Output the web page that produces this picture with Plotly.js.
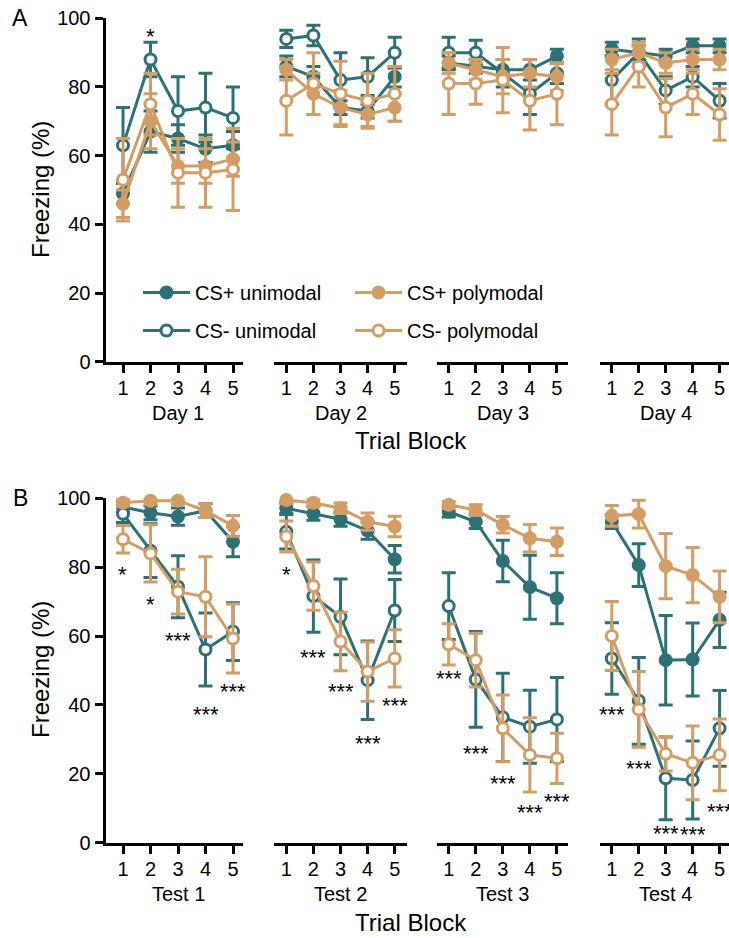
<!DOCTYPE html>
<html><head><meta charset="utf-8">
<script src="https://cdn.plot.ly/plotly-3.0.1.min.js"></script>
<style>html,body{margin:0;padding:0;background:#fff}#chart{width:729px;height:938px}</style>
</head><body><div id="chart"></div>
<script>
// ---------- DATA ----------
const blocks = [1, 2, 3, 4, 5];
const yTicks = [0, 20, 40, 60, 80, 100];
const dayLabels = ['Day 1', 'Day 2', 'Day 3', 'Day 4'];
const testLabels = ['Test 1', 'Test 2', 'Test 3', 'Test 4'];
const seriesNames = ['CS+ unimodal', 'CS- unimodal', 'CS+ polymodal', 'CS- polymodal'];

// Panel A (acquisition days), one row per day
const csPlusUniA     = [[49, 67, 65, 62, 63], [86, 83, 74, 73, 83], [87, 86, 85, 85, 89], [91, 90, 89, 92, 92]];
const csPlusUniAErr  = [[3, 6, 4, 4, 4], [3, 3, 2, 2, 3], [2, 2, 3, 3, 2], [2, 2, 2, 2, 2]];
const csMinusUniA    = [[63, 88, 73, 74, 71], [94, 95, 82, 83, 90], [90, 90, 84, 78, 84], [82, 90, 79, 83, 76]];
const csMinusUniAErr = [[11, 5, 10, 10, 9], [2.5, 3, 8, 5.5, 4.5], [4.5, 3.6, 4, 6, 3], [7, 4, 4, 3, 5]];
const csPlusPolyA    = [[46, 70, 57, 57, 59], [85, 78, 74, 72, 74], [87, 85, 83, 84, 83], [88, 90, 87, 88, 88]];
const csPlusPolyAErr = [[4, 8, 5, 5, 5], [3, 6, 5, 3.5, 4], [3, 3, 5, 4, 4], [3, 3, 3, 3, 3]];
const csMinusPolyA   = [[53, 75, 55, 55, 56], [76, 81, 78, 76, 78], [81, 81, 82, 76, 78], [75, 86, 74, 78, 72]];
const csMinusPolyAErr= [[12, 9, 10, 10, 12], [10, 9, 9.5, 8, 8], [9, 6, 9.5, 8.5, 9], [9, 6, 8.5, 6, 7.5]];
const starsAValue = [96.1];
const starsAText  = ['*'];
const starsABlock = [2];

// Panel B (tests), one row per test
const csPlusUniB     = [[97.5, 95.8, 94.7, 96.4, 87.4], [97.1, 95.6, 93.9, 90.6, 82.3], [96.1, 93.2, 81.8, 74.2, 71], [93.2, 80.6, 53, 53.2, 64.7]];
const csPlusUniBErr  = [[1.5, 2, 2.5, 2, 4.4], [1.5, 2, 2, 2.5, 4], [1.5, 2, 6, 9.3, 7.4], [2, 6.2, 13, 10.6, 8]];
const csMinusUniB    = [[95.5, 84.8, 74.3, 56.1, 61.3], [90.3, 71.6, 65.6, 47.2, 67.4], [68.7, 47.4, 36.4, 33.7, 35.8], [53.5, 41.2, 18.7, 18.2, 33.2]];
const csMinusUniBErr = [[2.5, 7.8, 9, 10.6, 8.4], [5, 10.5, 11, 11.4, 9], [9.7, 13.9, 12.8, 10.6, 12.2], [10.4, 12.6, 12, 11.3, 11]];
const csPlusPolyB    = [[98.7, 99.3, 99.3, 96.4, 92], [99.5, 98.7, 97.1, 93.2, 91.8], [98.1, 96.6, 92.3, 88.4, 87.4], [94.9, 95.4, 80.3, 77.7, 71.4]];
const csPlusPolyBErr = [[1, 1, 1, 2, 3], [1, 1, 1.5, 2.5, 3], [1, 1.5, 2.4, 4, 4], [3, 4, 9.5, 8, 7.5]];
const csMinusPolyB   = [[88.1, 84, 72.9, 71.4, 59.3], [88.9, 74.5, 58.4, 49.7, 53.5], [57.6, 53, 33.2, 25.5, 24.5], [60, 38.7, 25.8, 23.2, 25.5]];
const csMinusPolyBErr= [[4, 8.3, 6.5, 11.6, 10], [4.5, 7, 8.5, 8.6, 8.3], [6, 7.8, 9.7, 10.8, 7.3], [10, 11, 5, 10.7, 10.4]];
const starsBValue = [[79.2, 70.5, 60.3, 38.7, 45.5], [79.2, 55.2, 45.5, 30.3, 41.2], [49.2, 27.4, 18.7, 10.2, 13.4], [38.7, 23, 4.2, 3.7, 10.5]];
const starsBText  = [['*', '*', '***', '***', '***'], ['*', '***', '***', '***', '***'], ['***', '***', '***', '***', '***'], ['***', '***', '***', '***', '***']];

// ---------- STYLE / GEOMETRY ----------
const W = 729, H = 938;
const TEAL = '#2b7176', TAN = '#d49d64';
const FONT = 'Liberation Sans, Arial, sans-serif';
// per column: [axis start px, axis end px, tick1 px, tick5 px]
const cols = [[105.5, 243, 123, 233], [274, 407, 286.3, 394.7], [437, 568, 448.7, 556.9], [599.5, 729, 611.8, 719.6]];
// per row: [px of 100, px of 0]
const rowsPx = [[18.3, 361.7], [498.3, 842.7]];

const panels = [
  {vals: [csPlusUniA, csMinusUniA, csPlusPolyA, csMinusPolyA], errs: [csPlusUniAErr, csMinusUniAErr, csPlusPolyAErr, csMinusPolyAErr], labels: dayLabels},
  {vals: [csPlusUniB, csMinusUniB, csPlusPolyB, csMinusPolyB], errs: [csPlusUniBErr, csMinusUniBErr, csPlusPolyBErr, csMinusPolyBErr], labels: testLabels}
];
const seriesColor = [TEAL, TEAL, TAN, TAN];
const seriesOpen = [false, true, false, true];
const seriesLegend = ['legend', 'legend', 'legend2', 'legend2'];

const traces = [];
const layout = {
  width: W, height: H, margin: {l: 0, r: 0, t: 0, b: 0},
  paper_bgcolor: '#fff', plot_bgcolor: 'rgba(0,0,0,0)',
  font: {family: FONT, color: '#000', size: 20},
  showlegend: true,
  annotations: [],
  legend: {x: 138 / W, xanchor: 'left', y: 1 - 273 / H, yanchor: 'top', font: {size: 20, family: FONT},
           bgcolor: 'rgba(0,0,0,0)', traceorder: 'grouped', tracegroupgap: 9, itemwidth: 47},
  legend2: {x: 350 / W, xanchor: 'left', y: 1 - 273 / H, yanchor: 'top', font: {size: 20, family: FONT},
           bgcolor: 'rgba(0,0,0,0)', traceorder: 'grouped', tracegroupgap: 9, itemwidth: 47}
};

for (let r = 0; r < 2; r++) {
  const yName = r === 0 ? 'y' : 'y2';
  const yKey = r === 0 ? 'yaxis' : 'yaxis2';
  const [pTop, pBot] = rowsPx[r];
  layout[yKey] = {
    domain: [1 - pBot / H, 1 - pTop / H], range: [0, 100], anchor: r === 0 ? 'x' : 'x5',
    tickvals: yTicks, ticks: 'outside', ticklen: 8, tickwidth: 3, tickcolor: '#000',
    showline: true, linewidth: 3, linecolor: '#000', showgrid: false, zeroline: false,
    tickfont: {size: 20, family: FONT}
  };
  for (let c = 0; c < 4; c++) {
    const k = r * 4 + c + 1;
    const xName = k === 1 ? 'x' : 'x' + k;
    const xKey = k === 1 ? 'xaxis' : 'xaxis' + k;
    const [d0, d1, t1, t5] = cols[c];
    const s = (t5 - t1) / 4;
    layout[xKey] = {
      domain: [d0 / W, d1 / W], range: [1 - (t1 - d0) / s, 5 + (d1 - t5) / s], anchor: yName,
      tickvals: blocks, ticks: 'outside', ticklen: 8, tickwidth: 3, tickcolor: '#000',
      showline: true, linewidth: 3, linecolor: '#000', showgrid: false, zeroline: false,
      tickfont: {size: 20, family: FONT}, ticklabelstandoff: -2
    };
    // block-group label (Day / Test)
    layout.annotations.push({
      xref: xName, yref: 'paper', x: 3, y: 1 - (pBot + 51) / H, yanchor: 'middle',
      text: panels[r].labels[c], showarrow: false, font: {size: 20, family: FONT}
    });
    for (let sIdx = 0; sIdx < 4; sIdx++) {
      const col = seriesColor[sIdx];
      traces.push({
        type: 'scatter', mode: 'lines+markers',
        x: blocks, y: panels[r].vals[sIdx][c],
        xaxis: xName, yaxis: yName,
        name: seriesNames[sIdx], legendgroup: seriesNames[sIdx], legend: seriesLegend[sIdx],
        showlegend: (r === 0 && c === 0),
        cliponaxis: false,
        line: {color: col, width: 3},
        marker: seriesOpen[sIdx]
          ? {symbol: 'circle', size: 11, color: '#fff', line: {color: col, width: 3}}
          : {symbol: 'circle', size: 14, color: col, line: {width: 0}},
        error_y: {type: 'data', array: panels[r].errs[sIdx][c], visible: true, color: col, thickness: 3, width: 7}
      });
    }
  }
}

// significance stars
for (let i = 0; i < starsAValue.length; i++) {
  layout.annotations.push({xref: 'x', yref: 'y', x: starsABlock[i], y: starsAValue[i], yshift: -5,
    text: starsAText[i], showarrow: false, font: {size: 22, family: FONT}});
}
for (let c = 0; c < 4; c++) {
  for (let b = 0; b < 5; b++) {
    layout.annotations.push({xref: 'x' + (5 + c), yref: 'y2', x: blocks[b], y: starsBValue[c][b], yshift: -5,
      text: starsBText[c][b], showarrow: false, font: {size: 22, family: FONT}});
  }
}

// panel letters, axis titles
const extra = [
  {x: 20 / W, y: 1 - 18 / H, text: 'A', size: 23},
  {x: 20.5 / W, y: 1 - 498 / H, text: 'B', size: 23},
  {x: 411 / W, y: 1 - 440 / H, text: 'Trial Block', size: 24},
  {x: 411 / W, y: 1 - 922 / H, text: 'Trial Block', size: 24}
];
extra.forEach(e => layout.annotations.push({xref: 'paper', yref: 'paper', x: e.x, y: e.y, xanchor: 'center', yanchor: 'middle',
  text: e.text, showarrow: false, font: {size: e.size, family: FONT}}));
[190, 670].forEach(cy => layout.annotations.push({xref: 'paper', yref: 'paper', x: 40 / W, y: 1 - cy / H, xanchor: 'center', yanchor: 'middle',
  text: 'Freezing (%)', textangle: -90, showarrow: false, font: {size: 24, family: FONT}}));

Plotly.newPlot('chart', traces, layout, {staticPlot: true, displayModeBar: false});
</script>
</body></html>
